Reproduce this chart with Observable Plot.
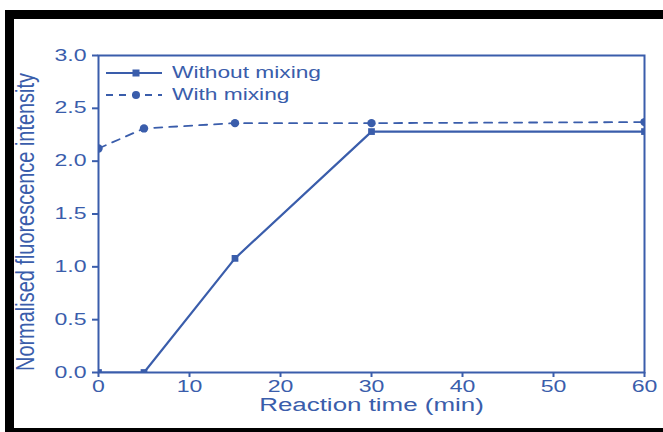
<!DOCTYPE html>
<html>
<head>
<meta charset="utf-8">
<script src="https://cdn.jsdelivr.net/npm/d3@7"></script>
<script src="https://cdn.jsdelivr.net/npm/@observablehq/plot@0.6"></script>
<style>
  html, body { margin: 0; padding: 0; background: #fff; }
  #wrap { position: relative; width: 663px; height: 432px; overflow: hidden; background: #fff; }
  #border { position: absolute; left: 5px; top: 10px; width: 658px; height: 422px; box-sizing: border-box;
            border-top: 9px solid #000; border-left: 9px solid #000; border-bottom: 4px solid #000; }
  #chart { position: absolute; left: 0; top: 0; }
  #legend { position: absolute; left: 104px; top: 62px; font-family: 'Liberation Sans', Arial, sans-serif;
            font-size: 16px; color: #3a5dab; }
  .row { display: flex; align-items: center; height: 22px; white-space: nowrap; }
  .row svg { margin-right: 10px; }
  .row span { display: inline-block; transform: scaleX(1.42); transform-origin: left center; }
</style>
</head>
<body>
<div id="wrap">
  <div id="border"></div>
  <div id="chart"></div>
  <div id="legend"></div>
</div>
<script>
const times = [0, 5, 15, 30, 60];
const withoutMixing = [0, 0, 1.08, 2.28, 2.28];
const withMixing = [2.12, 2.31, 2.36, 2.36, 2.37];
const seriesNames = ["Without mixing", "With mixing"];
const xTicks = [0, 10, 20, 30, 40, 50, 60];
const yTicks = [0, 0.5, 1.0, 1.5, 2.0, 2.5, 3.0];
const xTitle = "Reaction time (min)";
const yTitle = "Normalised fluorescence intensity";

const color = "#3a5dab";
const stretch = 1.44;
const rowsA = times.map((t, i) => ({t, v: withoutMixing[i]}));
const rowsB = times.map((t, i) => ({t, v: withMixing[i]}));

const plot = Plot.plot({
  width: 663,
  height: 432,
  marginLeft: 98,
  marginRight: 19,
  marginTop: 55,
  marginBottom: 60,
  style: { fontFamily: "'Liberation Sans', Arial, sans-serif", background: "transparent", color: color },
  x: { domain: [0, 60] },
  y: { domain: [0, 3] },
  marks: [
    Plot.frame({ stroke: color, strokeWidth: 2 }),
    Plot.axisX({ ticks: xTicks, tickSize: 5, tickPadding: 3, fontSize: 16, stroke: color, strokeWidth: 2, fill: color, label: null }),
    Plot.axisY({ ticks: yTicks, tickSize: 6, tickPadding: 6, fontSize: 16, stroke: color, strokeWidth: 2, fill: color, tickFormat: d3.format(".1f"), label: null }),
    Plot.text([xTitle], { text: d => d, frameAnchor: "bottom", dy: 38, fontSize: 18, fill: color }),
    Plot.text([yTitle], { text: d => d, frameAnchor: "left", textAnchor: "middle", rotate: -90, dx: -73, dy: 8, fontSize: 18,
      fill: color }),
    Plot.line(rowsB, { x: "t", y: "v", stroke: color, strokeWidth: 1.8, strokeDasharray: "8,7", clip: true }),
    Plot.line(rowsA, { x: "t", y: "v", stroke: color, strokeWidth: 2.2, clip: true }),
    Plot.dot(rowsB, { x: "t", y: "v", r: 4.2, fill: color, stroke: "none", clip: true }),
    Plot.dot(rowsA, { x: "t", y: "v", symbol: "square", r: 3.8, fill: color, stroke: "none", clip: true })
  ]
});
document.getElementById("chart").appendChild(plot);

// widen glyphs horizontally, as in the reference image
plot.querySelectorAll("text").forEach(t => {
  if (t.textContent === yTitle) {
    const tr = t.getAttribute("transform") || "";
    t.setAttribute("transform", tr + " scale(1," + stretch + ")");
    t.setAttribute("textLength", "298");
    t.setAttribute("lengthAdjust", "spacingAndGlyphs");
  } else {
    const len = t.getComputedTextLength();
    t.setAttribute("textLength", (len * stretch).toFixed(2));
    t.setAttribute("lengthAdjust", "spacingAndGlyphs");
  }
});

const legend = document.getElementById("legend");
seriesNames.forEach((name, i) => {
  const row = document.createElement("div");
  row.className = "row";
  const dash = i === 1 ? 'stroke-dasharray="7,6"' : '';
  const marker = i === 1
    ? `<circle cx="32" cy="11" r="4" fill="${color}"/>`
    : `<rect x="28.5" y="7.5" width="7" height="7" fill="${color}"/>`;
  row.innerHTML = `<svg width="58" height="22"><line x1="2" x2="58" y1="11" y2="11" stroke="${color}" stroke-width="2" ${dash}/>${marker}</svg><span>${name}</span>`;
  legend.appendChild(row);
});
</script>
</body>
</html>
